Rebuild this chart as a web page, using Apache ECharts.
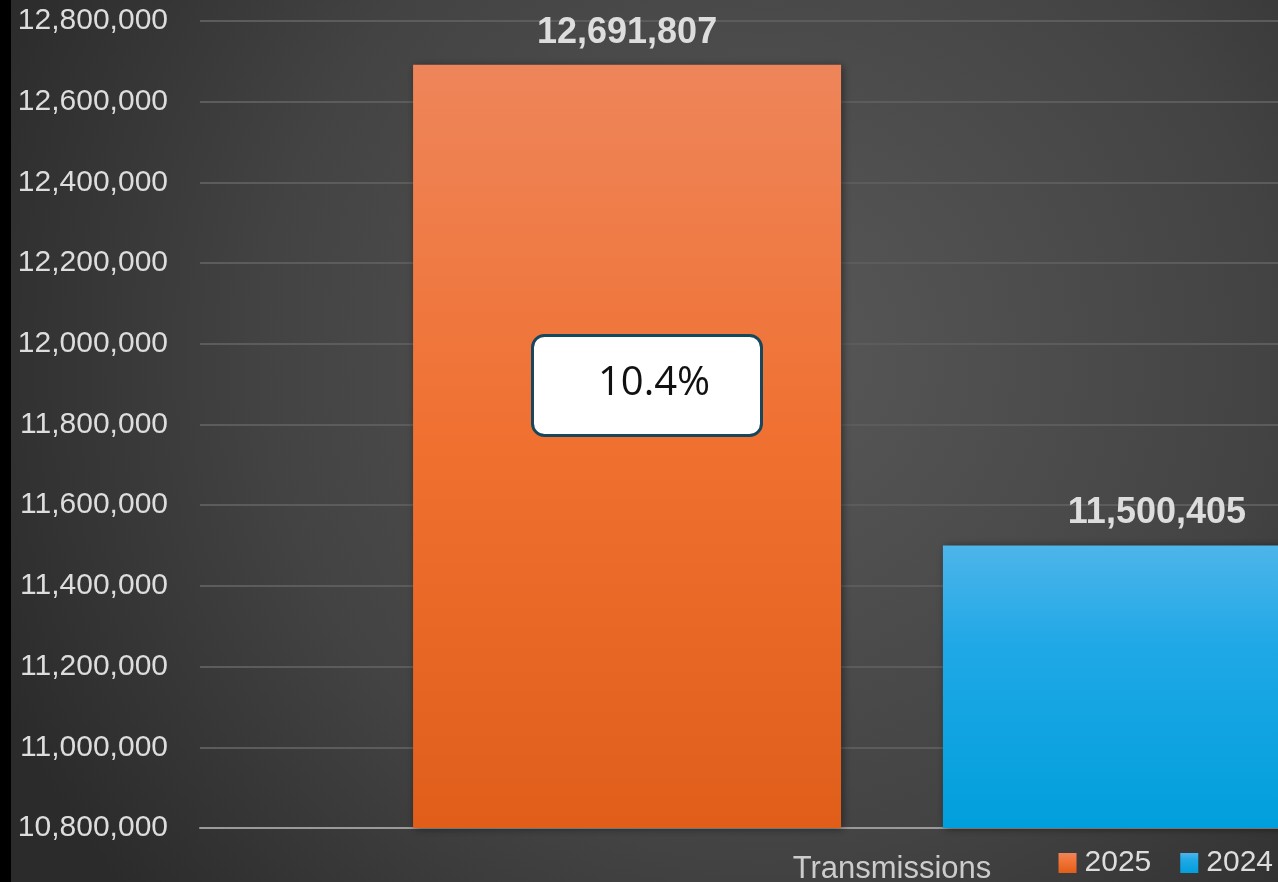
<!DOCTYPE html>
<html>
<head>
<meta charset="utf-8">
<script src="https://cdn.jsdelivr.net/npm/echarts@6/dist/echarts.min.js"></script>
<style>
html,body{margin:0;padding:0;background:#2b2b2b;}
#c{width:1278px;height:882px;}
</style>
</head>
<body>
<div id="c"></div>
<script>
var categories = ['Transmissions'];
var seriesNames = ['2025', '2024'];
var values2025 = [12691807];
var values2024 = [11500405];
var yMin = 10800000, yMax = 12800000, yInterval = 200000;

var pct = ((values2025[0] - values2024[0]) / values2024[0] * 100).toFixed(1) + '%';

function fmt(v){ return v.toLocaleString('en-US'); }

var chart = echarts.init(document.getElementById('c'));
var font = '"Liberation Sans", Arial, sans-serif';

chart.setOption({
  backgroundColor: {
    type: 'radial', x: 0.6, y: 0.4, r: 0.95,
    colorStops: [{offset: 0, color: '#585858'}, {offset: 0.6, color: '#434343'}, {offset: 1, color: '#2b2b2b'}]
  },
  animation: false,
  grid: {left: 200, top: 21, bottom: 54, right: -306, containLabel: false, outerBoundsMode: 'none'},
  legend: {
    right: 5, top: 848, padding: 0, icon: 'rect',
    itemWidth: 18, itemHeight: 20, itemGap: 29,
    textStyle: {color: '#dddddd', fontSize: 30, fontFamily: font, padding: [0,0,0,3]},
    data: seriesNames
  },
  xAxis: {
    type: 'category', data: categories,
    axisLine: {lineStyle: {color: '#9a9a9a', width: 2}},
    axisTick: {show: false},
    axisLabel: {color: '#cccccc', fontSize: 31, fontFamily: font, margin: 26, align: 'center'},
    splitLine: {show: false}
  },
  yAxis: {
    type: 'value', min: yMin, max: yMax, interval: yInterval,
    axisLine: {show: false}, axisTick: {show: false},
    axisLabel: {color: '#dddddd', fontSize: 30, fontFamily: font, margin: 32, formatter: function(v){return fmt(v);}},
    splitLine: {lineStyle: {color: '#5c5c5c', width: 2}}
  },
  series: [
    {
      name: seriesNames[0], type: 'bar', data: values2025, barWidth: 428, barGap: '23.8%',
      itemStyle: {
        color: {type: 'linear', x: 0, y: 0, x2: 0, y2: 1, colorStops: [{offset: 0, color: '#EE855A'}, {offset: 0.5, color: '#F07030'}, {offset: 1, color: '#E05E1A'}]},
        shadowBlur: 8, shadowColor: 'rgba(0,0,0,0.45)', shadowOffsetX: 2, shadowOffsetY: 1
      },
      label: {show: true, position: 'top', distance: 14, color: '#dddddd', fontSize: 36, fontWeight: 'bold', fontFamily: font, formatter: function(p){return fmt(p.value);}}
    },
    {
      name: seriesNames[1], type: 'bar', data: values2024, barWidth: 428,
      itemStyle: {
        color: {type: 'linear', x: 0, y: 0, x2: 0, y2: 1, colorStops: [{offset: 0, color: '#4DB5EA'}, {offset: 0.35, color: '#20A8E6'}, {offset: 1, color: '#009FDC'}]},
        shadowBlur: 8, shadowColor: 'rgba(0,0,0,0.45)', shadowOffsetX: 2, shadowOffsetY: 1
      },
      label: {show: true, position: 'top', distance: 14, color: '#dddddd', fontSize: 36, fontWeight: 'bold', fontFamily: font, formatter: function(p){return fmt(p.value);}}
    }
  ],
  graphic: [
    {type: 'rect', left: 0, top: 0, shape: {width: 11, height: 882}, style: {fill: '#000000'}, z: 100},
    {type: 'rect', left: 531, top: 334, shape: {width: 229, height: 100, r: 12},
     style: {fill: '#ffffff', stroke: '#17475C', lineWidth: 3}, z: 100},
    {type: 'text', x: 654, y: 384, style: {text: pct, fill: '#111111', font: '40px "Open Sans", "Liberation Sans", sans-serif', align: 'center', verticalAlign: 'middle'}, z: 101}
  ]
});
</script>
</body>
</html>
